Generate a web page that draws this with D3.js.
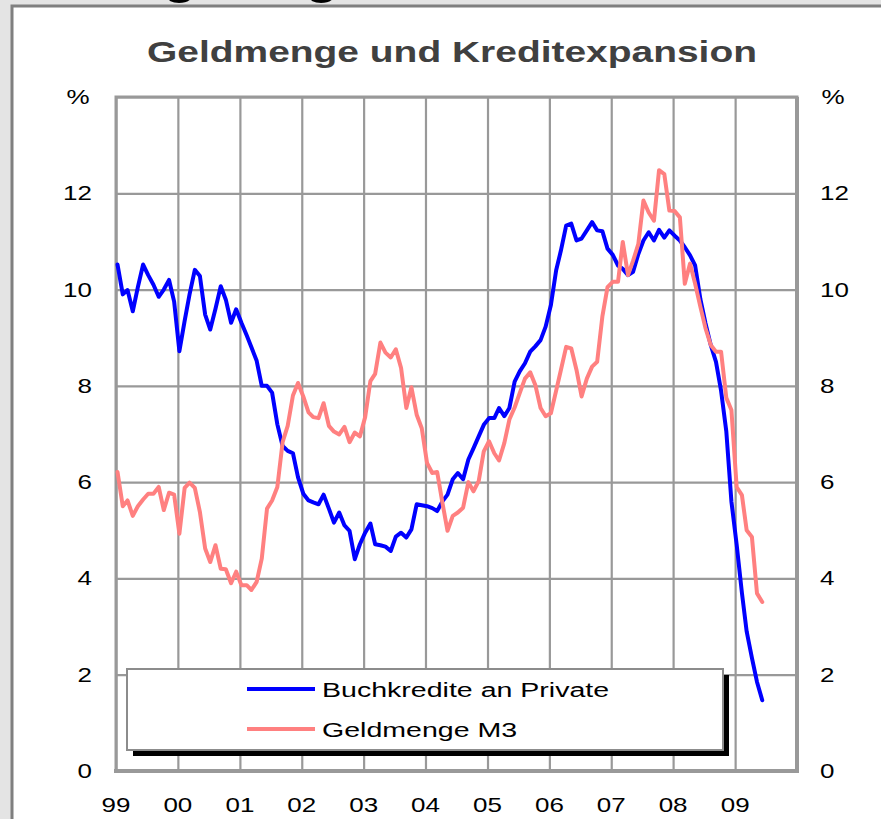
<!DOCTYPE html>
<html>
<head>
<meta charset="utf-8">
<script src="https://cdn.jsdelivr.net/npm/d3@7"></script>
<style>
  html, body { margin: 0; padding: 0; background: #e4e4e4; }
  svg { display: block; }
  text { font-family: "Liberation Sans", Arial, sans-serif; }
</style>
</head>
<body>
<div id="chart"></div>
<script>
// Geldmenge und Kreditexpansion, monthly growth rates in %, Jan 1999 - Jun 2009

const endMonth = new Date(2009, 5, 11);

// Buchkredite an Private (blue)
const buchkredite = [
  10.52, 9.9, 9.99, 9.55, 10.05, 10.52, 10.3, 10.1, 9.85, 10.0, 10.2, 9.75,   // 1999
  8.72, 9.35, 9.9, 10.41, 10.28, 9.48, 9.17, 9.6, 10.07, 9.79, 9.31, 9.59,    // 2000
  9.31, 9.05, 8.8, 8.52, 8.0, 8.0, 7.86, 7.2, 6.75, 6.65, 6.6, 6.1,           // 2001
  5.76, 5.62, 5.58, 5.54, 5.74, 5.45, 5.16, 5.37, 5.1, 4.99, 4.4, 4.71,       // 2002
  4.95, 5.14, 4.71, 4.69, 4.66, 4.57, 4.87, 4.95, 4.85, 5.02, 5.54, 5.52,     // 2003
  5.5, 5.46, 5.4, 5.6, 5.74, 6.06, 6.19, 6.06, 6.47, 6.7, 6.95, 7.19,         // 2004
  7.33, 7.33, 7.54, 7.37, 7.54, 8.09, 8.3, 8.47, 8.71, 8.82, 8.95, 9.23,      // 2005
  9.68, 10.4, 10.81, 11.33, 11.37, 11.02, 11.06, 11.23, 11.4, 11.23, 11.21, 10.85, // 2006
  10.72, 10.5, 10.43, 10.3, 10.37, 10.74, 11.02, 11.19, 11.02, 11.24, 11.08, 11.23, // 2007
  11.12, 11.02, 10.88, 10.71, 10.5, 9.8, 9.3, 8.85, 8.5, 7.9, 7.05, 5.6,      // 2008
  4.7, 3.7, 2.9, 2.35, 1.85, 1.47                                              // 2009
];

// Geldmenge M3 (light red)
const geldmengeM3 = [
  6.21, 5.5, 5.62, 5.3, 5.5, 5.64, 5.76, 5.76, 5.9, 5.42, 5.78, 5.74,         // 1999
  4.93, 5.88, 5.99, 5.88, 5.38, 4.62, 4.34, 4.69, 4.2, 4.19, 3.9, 4.14,       // 2000
  3.86, 3.86, 3.76, 3.93, 4.41, 5.45, 5.62, 5.9, 6.83, 7.17, 7.8, 8.06,       // 2001
  7.78, 7.45, 7.35, 7.33, 7.64, 7.17, 7.05, 6.99, 7.15, 6.83, 7.03, 6.95,     // 2002
  7.35, 8.1, 8.25, 8.9, 8.69, 8.59, 8.76, 8.37, 7.54, 7.97, 7.4, 7.12,        // 2003
  6.4, 6.19, 6.21, 5.57, 4.99, 5.3, 5.37, 5.47, 6.0, 5.81, 6.02, 6.64,        // 2004
  6.85, 6.6, 6.45, 6.81, 7.3, 7.55, 7.85, 8.15, 8.28, 8.02, 7.54, 7.37,       // 2005
  7.43, 7.9, 8.33, 8.81, 8.78, 8.33, 7.78, 8.15, 8.4, 8.5, 9.45, 10.05,       // 2006
  10.16, 10.16, 10.99, 10.3, 10.6, 10.95, 11.85, 11.6, 11.43, 12.48, 12.4, 11.64, // 2007
  11.63, 11.5, 10.12, 10.54, 10.12, 9.64, 9.2, 8.85, 8.71, 8.71, 7.75, 7.5,   // 2008
  5.9, 5.73, 5.0, 4.86, 3.69, 3.51                                             // 2009
];

const seriesNames = ["Buchkredite an Private", "Geldmenge M3"];
const seriesColors = ["#0000ff", "#ff8080"];
const yTicks = [0, 2, 4, 6, 8, 10, 12];
const yearTicks = [1999, 2000, 2001, 2002, 2003, 2004, 2005, 2006, 2007, 2008, 2009];
const yearLabels = ["99", "00", "01", "02", "03", "04", "05", "06", "07", "08", "09"];
const title = "Geldmenge und Kreditexpansion";

const W = 881, H = 819;
const margin = {top: 97, right: 84, bottom: 48, left: 116};
const SX = 1.3; // text in the original is stretched horizontally

const svg = d3.select("#chart").append("svg")
    .attr("width", W)
    .attr("height", H);

// slide background, the slide heading above is cut off by the panel
svg.append("rect").attr("width", W).attr("height", H).attr("fill", "#e4e4e4");
svg.append("text")
    .attr("transform", "translate(163,-7) scale(1.2,1)")
    .attr("font-size", 46).attr("font-weight", "bold").attr("fill", "#000")
    .text("g");
svg.append("text")
    .attr("transform", "translate(305,-7) scale(1.2,1)")
    .attr("font-size", 46).attr("font-weight", "bold").attr("fill", "#000")
    .text("g");
svg.append("rect")
    .attr("x", 12).attr("y", 6)
    .attr("width", W + 20).attr("height", H + 20)
    .attr("fill", "#fff")
    .attr("stroke", "#7f7f7f")
    .attr("stroke-width", 3);

const x = d3.scaleTime()
    .domain([new Date(1999, 0, 1), new Date(2010, 0, 1)])
    .range([margin.left, W - margin.right]);
const y = d3.scaleLinear()
    .domain([0, 14])
    .range([H - margin.bottom, margin.top]);

const months = d3.timeMonth.range(new Date(1999, 0, 1), endMonth)
    .map(d => new Date(d.getFullYear(), d.getMonth(), 10));

function stretchedText(sel, px, py, anchor, size, txt, sx) {
  sel.append("text")
    .attr("transform", "translate(" + px + "," + py + ") scale(" + (sx || SX) + ",1)")
    .attr("text-anchor", anchor)
    .attr("font-size", size)
    .attr("fill", "#000")
    .text(txt);
}

// title
svg.append("text")
    .attr("transform", "translate(452,62) scale(1.32,1)")
    .attr("text-anchor", "middle")
    .attr("font-size", 29.5)
    .attr("font-weight", "bold")
    .attr("fill", "#404040")
    .text(title);

// grid
const grid = svg.append("g");
grid.append("g")
    .attr("transform", "translate(0," + (H - margin.bottom) + ")")
    .call(d3.axisBottom(x)
        .tickValues(yearTicks.map(yr => new Date(yr, 0, 1)))
        .tickSize(-(H - margin.top - margin.bottom))
        .tickFormat(""))
    .call(g => g.select(".domain").remove())
    .call(g => g.selectAll("line").attr("stroke", "#999").attr("stroke-width", 2.2));
grid.append("g")
    .attr("transform", "translate(" + margin.left + ",0)")
    .call(d3.axisLeft(y)
        .tickValues(yTicks.concat([14]))
        .tickSize(-(W - margin.left - margin.right))
        .tickFormat(""))
    .call(g => g.select(".domain").remove())
    .call(g => g.selectAll("line").attr("stroke", "#999").attr("stroke-width", 2.2));

// frame
svg.append("rect")
    .attr("x", margin.left).attr("y", margin.top)
    .attr("width", W - margin.left - margin.right)
    .attr("height", H - margin.top - margin.bottom)
    .attr("fill", "none")
    .attr("stroke", "#999")
    .attr("stroke-width", 3);
svg.append("line")
    .attr("x1", margin.left - 2).attr("x2", W - margin.right + 2)
    .attr("y1", y(0)).attr("y2", y(0))
    .attr("stroke", "#999").attr("stroke-width", 4);
svg.append("line")
    .attr("x1", W - margin.right).attr("x2", W - margin.right)
    .attr("y1", margin.top).attr("y2", y(0))
    .attr("stroke", "#999").attr("stroke-width", 4);

// axis labels
yTicks.forEach(v => {
  stretchedText(svg, margin.left - 24, y(v) + 7, "end", 20, String(v));
  stretchedText(svg, W - margin.right + 23, y(v) + 7, "start", 20, String(v));
});
stretchedText(svg, 78, y(14) + 7, "middle", 20, "%");
stretchedText(svg, 833, y(14) + 7, "middle", 20, "%");
yearTicks.forEach((yr, i) => {
  stretchedText(svg, x(new Date(yr, 0, 1)), 812, "middle", 20, yearLabels[i]);
});

// lines
const line = d3.line()
    .x((d, i) => x(months[i]))
    .y(d => y(d));

[buchkredite, geldmengeM3].forEach((vals, k) => {
  svg.append("path")
      .datum(vals)
      .attr("fill", "none")
      .attr("stroke", seriesColors[k])
      .attr("stroke-width", 4)
      .attr("stroke-linejoin", "round")
      .attr("stroke-linecap", "round")
      .attr("d", line);
});

// legend
const lg = svg.append("g").attr("transform", "translate(127,669)");
lg.append("rect").attr("x", 6).attr("y", 6).attr("width", 596).attr("height", 81).attr("fill", "#000");
lg.append("rect").attr("width", 596).attr("height", 81)
    .attr("fill", "#fff").attr("stroke", "#8c8c8c").attr("stroke-width", 2);
seriesNames.forEach((name, i) => {
  const ly = 20 + i * 40;
  lg.append("line")
      .attr("x1", 120).attr("x2", 188)
      .attr("y1", ly).attr("y2", ly)
      .attr("stroke", seriesColors[i]).attr("stroke-width", 4);
  stretchedText(lg, 195, ly + 8, "start", 21, name, 1.36);
});
</script>
</body>
</html>
